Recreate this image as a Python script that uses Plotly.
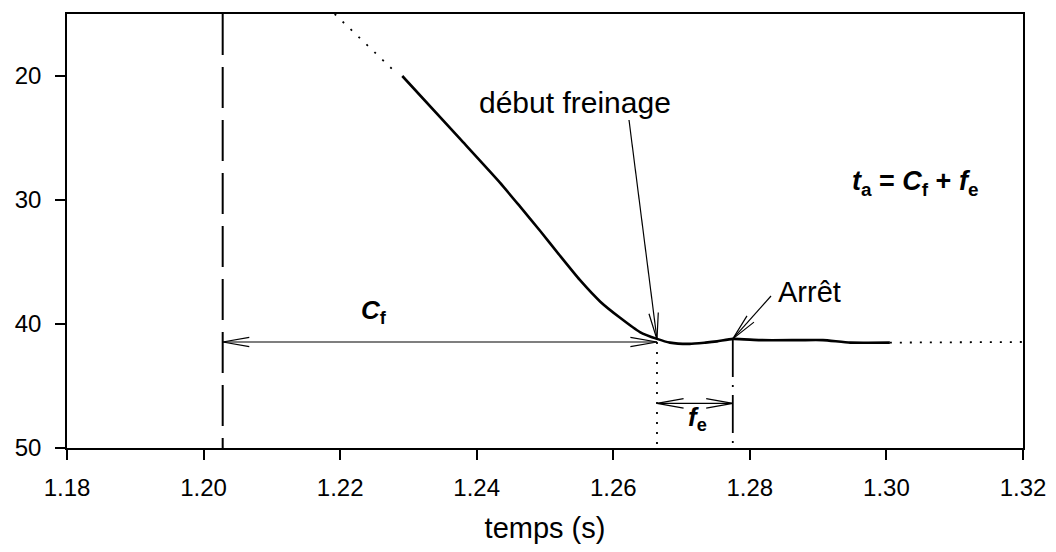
import math
import plotly.graph_objects as go

# ---------------- data ----------------
t_lead = [1.2192, 1.2283]           # dotted lead-in (s)
y_lead = [15.0, 19.8]
t_main = [1.2291, 1.2376, 1.2434, 1.2463, 1.2493, 1.2522, 1.2551, 1.2581,
          1.2610, 1.2639, 1.2664, 1.2683, 1.2712, 1.2735, 1.2752, 1.2775,
          1.2815, 1.2873, 1.2907, 1.2947, 1.3005]
y_main = [20.0, 25.1, 28.6, 30.5, 32.5, 34.5, 36.45, 38.2,
          39.5, 40.65, 41.2, 41.5, 41.6, 41.5, 41.4, 41.2,
          41.3, 41.3, 41.3, 41.5, 41.5]
t_tail = [1.3005, 1.3200]           # dotted continuation
y_tail = [41.5, 41.45]

t_origin = 1.2028     # dashed reference line
t_brake = 1.2664      # début freinage
t_stop = 1.2775       # arrêt
y_cf = 41.45          # level of the C_f arrow
y_fe = 46.4           # level of the f_e arrow

x_ticks = [1.18, 1.20, 1.22, 1.24, 1.26, 1.28, 1.30, 1.32]
y_ticks = [20, 30, 40, 50]
X_RANGE = [1.18, 1.32]
Y_RANGE = [50, 15]

# ---------------- layout geometry ----------------
# page body has an 8px margin; plot area should span x 67..1023, y 14..448 of the window
OFF = 8
W, H = 1040, 536
ML, MT = 67 - OFF, 14 - OFF
MR = (OFF + W) - 1023
MB = (OFF + H) - 448
PW, PH = W - ML - MR, H - MT - MB
SX = PW / (X_RANGE[1] - X_RANGE[0])
SY = PH / (Y_RANGE[0] - Y_RANGE[1])

def to_px(x, y):
    return ((x - X_RANGE[0]) * SX, (y - Y_RANGE[1]) * SY)

def to_data(px, py):
    return (X_RANGE[0] + px / SX, Y_RANGE[1] + py / SY)

def win_to_data(wx, wy):
    return to_data(wx - 67, wy - 14)

FONT = "Liberation Sans, Arial, sans-serif"
fig = go.Figure()

fig.add_trace(go.Scatter(x=t_lead, y=y_lead, mode="lines",
                         line=dict(color="black", width=1.8, dash="2px,9px"),
                         showlegend=False, hoverinfo="skip"))
fig.add_trace(go.Scatter(x=t_main, y=y_main, mode="lines",
                         line=dict(color="black", width=2.6, shape="spline", smoothing=0.5),
                         showlegend=False, hoverinfo="skip"))
fig.add_trace(go.Scatter(x=t_tail, y=y_tail, mode="lines",
                         line=dict(color="black", width=1.8, dash="2px,8px"),
                         showlegend=False, hoverinfo="skip"))

shapes = []

def line(x0, y0, x1, y1, width=1.2, dash="solid"):
    shapes.append(dict(type="line", xref="x", yref="y", x0=x0, y0=y0, x1=x1, y1=y1,
                       line=dict(color="black", width=width, dash=dash)))

def vhead(tip, tail, length=27, half_deg=10):
    tx, ty = to_px(*tip)
    bx, by = to_px(*tail)
    d = math.hypot(bx - tx, by - ty)
    ux, uy = (bx - tx) / d, (by - ty) / d
    pts = []
    for s in (1, -1):
        a = math.radians(half_deg) * s
        rx = ux * math.cos(a) - uy * math.sin(a)
        ry = ux * math.sin(a) + uy * math.cos(a)
        pts.append(to_data(tx + length * rx, ty + length * ry))
    path = "M {:.6f},{:.4f} L {:.6f},{:.4f} L {:.6f},{:.4f}".format(
        pts[0][0], pts[0][1], tip[0], tip[1], pts[1][0], pts[1][1])
    shapes.append(dict(type="path", xref="x", yref="y", path=path,
                       line=dict(color="black", width=1.2)))

# vertical reference lines
line(t_origin, Y_RANGE[1], t_origin, Y_RANGE[0], width=2, dash="41px,12px")
line(t_brake, y_cf, t_brake, Y_RANGE[0], width=1.8, dash="2px,8px")
line(t_stop, 41.2, t_stop, Y_RANGE[0], width=1.8, dash="38px,8px,2px,8px")

# C_f double arrow
line(t_origin, y_cf, t_brake, y_cf)
vhead((t_origin, y_cf), (t_brake, y_cf))
vhead((t_brake, y_cf), (t_origin, y_cf))
# f_e double arrow
line(t_brake, y_fe, t_stop, y_fe)
vhead((t_brake, y_fe), (t_stop, y_fe))
vhead((t_stop, y_fe), (t_brake, y_fe))

# pointer arrows
tail_brake = win_to_data(629, 120)
tip_brake = (t_brake, 41.25)
line(tail_brake[0], tail_brake[1], tip_brake[0], tip_brake[1])
vhead(tip_brake, tail_brake)
tail_stop = win_to_data(771, 296)
tip_stop = (t_stop, 41.2)
line(tail_stop[0], tail_stop[1], tip_stop[0], tip_stop[1])
vhead(tip_stop, tail_stop)

SP = "&nbsp;"
annotations = [
    dict(x=1.2544, y=22.1, text="début freinage", font=dict(size=30)),
    dict(x=1.2888, y=37.4, text="Arrêt", font=dict(size=29)),
    dict(x=1.2250, y=39.0, text="<b><i>C</i></b><sub><b>f</b></sub>", font=dict(size=26)),
    dict(x=1.2723, y=47.6, text="<b><i>f</i></b><sub><b>e</b></sub>", font=dict(size=26)),
    dict(x=1.3042, y=28.6,
         text="<b><i>t</i></b><sub><b>a</b></sub><b>" + SP + "=" + SP + "</b><b><i>C</i></b>"
              "<sub><b>f</b></sub><b>" + SP + "+" + SP + "</b><b><i>f</i></b><sub><b>e</b></sub>",
         font=dict(size=27)),
]
for a in annotations:
    a.update(xref="x", yref="y", showarrow=False, xanchor="center", yanchor="middle")
    a["font"].update(family=FONT, color="black")

axis_common = dict(showline=True, linecolor="black", linewidth=1.5, mirror=True,
                   ticks="outside", ticklen=10, tickwidth=1.5, tickcolor="black",
                   showgrid=False, zeroline=False,
                   tickfont=dict(family=FONT, size=24, color="black"))

fig.update_layout(
    width=W, height=H,
    margin=dict(l=ML, r=MR, t=MT, b=MB, autoexpand=False),
    paper_bgcolor="white", plot_bgcolor="white",
    shapes=shapes, annotations=annotations, showlegend=False,
    xaxis=dict(range=X_RANGE, tickvals=x_ticks, tickformat=".2f",
               ticklabelstandoff=7, automargin=False,
               title=dict(text="temps (s)", font=dict(family=FONT, size=29, color="black"),
                          standoff=26),
               **axis_common),
    yaxis=dict(range=Y_RANGE, tickvals=y_ticks, ticklabelstandoff=9, automargin=False,
               **axis_common),
)

fig.write_html("out.html")
